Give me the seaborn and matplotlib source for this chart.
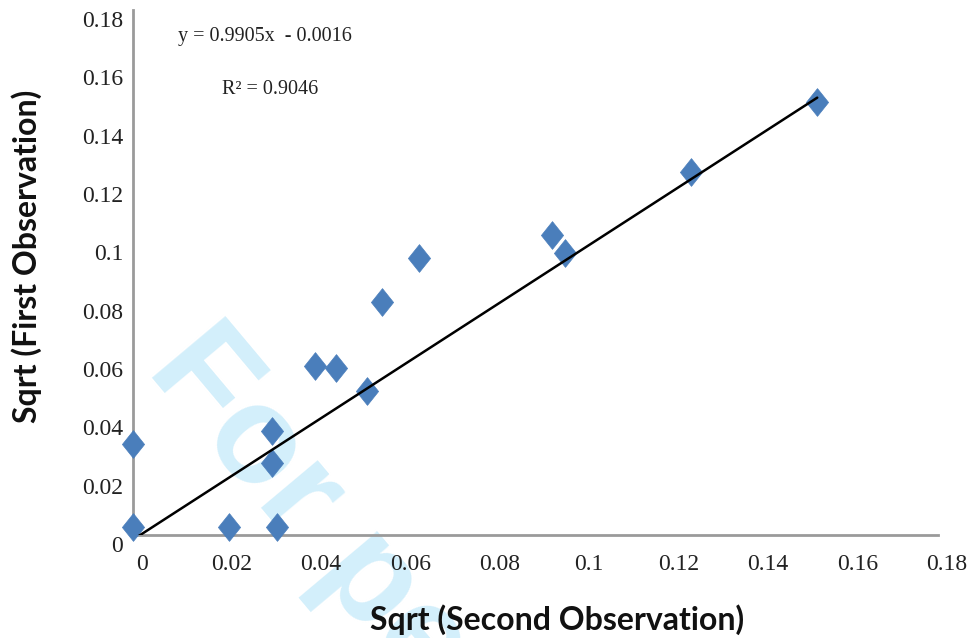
import matplotlib
matplotlib.use("Agg")
from matplotlib import pyplot as plt
from matplotlib.path import Path
from matplotlib.markers import MarkerStyle
import matplotlib.transforms as mtransforms
import numpy as np
import pandas as pd
import seaborn as sns

# values
second_obs = [0.0, 0.0, 0.0215, 0.0322, 0.031, 0.031, 0.0408, 0.0453, 0.0524,
              0.0557, 0.064, 0.0936, 0.0966, 0.1247, 0.153]
first_obs = [0.0312, 0.0028, 0.0028, 0.0028, 0.0357, 0.0246, 0.0581, 0.0572, 0.0495,
             0.0799, 0.0951, 0.1029, 0.0966, 0.1246, 0.1486]
slope = 0.9905
intercept = -0.0016
r_squared = 0.9046
tick_values = [0, 0.02, 0.04, 0.06, 0.08, 0.1, 0.12, 0.14, 0.16, 0.18]
tick_labels = ['0', '0.02', '0.04', '0.06', '0.08', '0.1', '0.12', '0.14', '0.16', '0.18']

df = pd.DataFrame({'second': second_obs, 'first': first_obs})
trend = pd.DataFrame({'second': [df['second'].min(), df['second'].max()]})
trend['first'] = slope * trend['second'] + intercept

sns.set_style('white')
plt.rcParams['font.family'] = ['Liberation Serif', 'DejaVu Serif']

fig = plt.figure(figsize=(9.74, 6.38), dpi=100)
fig.patch.set_facecolor('white')
ax = fig.add_axes([133 / 974, 1 - 535 / 638, 805 / 974, 525 / 638])
ax.patch.set_alpha(0)

# watermark, kept behind the axes
fig.text(145 / 974, 1 - 370 / 638, 'For pe', rotation=-50, rotation_mode='anchor',
         ha='left', va='baseline', fontsize=100, fontweight='bold', color='#d3effb',
         family='Liberation Sans', zorder=-1)

diamond = MarkerStyle(Path([(0, 1), (0.8, 0), (0, -1), (-0.8, 0), (0, 1)],
                           [Path.MOVETO, Path.LINETO, Path.LINETO, Path.LINETO, Path.CLOSEPOLY]))
sns.scatterplot(data=df, x='second', y='first', marker=diamond, s=400,
                color='#4a7ebb', edgecolor='#4a7ebb', linewidth=0.5, ax=ax,
                zorder=3, clip_on=False)
sns.lineplot(data=trend, x='second', y='first', color='black', lw=1.8, ax=ax, zorder=4)

ax.set_xlim(0, 0.18)
ax.set_ylim(0, 0.18)
ax.set_xticks(tick_values)
ax.set_xticklabels(tick_labels)
ax.set_yticks(tick_values)
ax.set_yticklabels(tick_labels)

for side in ['top', 'right']:
    ax.spines[side].set_visible(False)
for side in ['left', 'bottom']:
    ax.spines[side].set_color('#9a9a9a')
    ax.spines[side].set_linewidth(2)
    ax.spines[side].set_zorder(2)

ax.tick_params(axis='both', direction='out', length=3, width=1.5, color='#9a9a9a',
               labelsize=17, labelcolor='#222222')
ax.tick_params(axis='x', pad=11)
ax.tick_params(axis='y', pad=4)

# shift labels the way the original chart had them
dx = mtransforms.ScaledTranslation(9 / 100, 0, fig.dpi_scale_trans)
dy = mtransforms.ScaledTranslation(0, -9 / 100, fig.dpi_scale_trans)
for lab in ax.get_xticklabels():
    lab.set_transform(lab.get_transform() + dx)
for lab in ax.get_yticklabels():
    lab.set_transform(lab.get_transform() + dy)

ax.set_xlabel('Sqrt (Second Observation)', fontsize=23, fontweight='bold',
              family='Lato', color='#111111', va='center')
ax.set_ylabel('Sqrt (First Observation)', fontsize=23, fontweight='bold',
              family='Lato', color='#111111', va='center')
ax.xaxis.set_label_coords(0.527, -0.162)
ax.yaxis.set_label_coords(-0.1317, 0.531)

ax.text(178 / 974, 1 - 37 / 638, 'y = 0.9905x  - 0.0016', transform=fig.transFigure,
        fontsize=14.5, va='center', ha='left', color='#222222')
ax.text(222 / 974, 1 - 90 / 638, 'R² = %.4f' % r_squared, transform=fig.transFigure,
        fontsize=14.5, va='center', ha='left', color='#222222')

plt.savefig('out.png', dpi=100)
